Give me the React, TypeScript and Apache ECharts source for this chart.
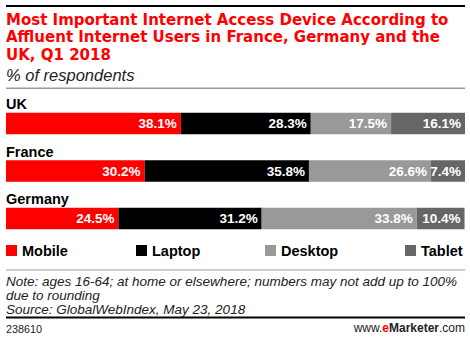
import React, { useEffect, useRef } from "react";
import * as echarts from "echarts";

const countries = ["UK", "France", "Germany"];
const mobile = [38.1, 30.2, 24.5];
const laptop = [28.3, 35.8, 31.2];
const desktop = [17.5, 26.6, 33.8];
const tablet = [16.1, 7.4, 10.4];
const seriesNames = ["Mobile", "Laptop", "Desktop", "Tablet"];
const seriesColors = ["#ff0000", "#000000", "#999999", "#666666"];
const legendLefts = [6, 136, 265, 405];

const titleText =
  "Most Important Internet Access Device According to\nAffluent Internet Users in France, Germany and the\nUK, Q1 2018";
const subtitleText = "% of respondents";
const noteLines = [
  "Note: ages 16-64; at home or elsewhere; numbers may not add up to 100%",
  "due to rounding",
  "Source: GlobalWebIndex, May 23, 2018",
];
const chartId = "238610";

export default function App() {
  const ref = useRef<HTMLDivElement>(null);
  useEffect(() => {
    const chart = echarts.init(ref.current!, null, { renderer: "svg" });
    const font = "'Liberation Sans', Arial, sans-serif";
    const heavy = "'DejaVu Sans', 'Liberation Sans', sans-serif";
    const values = [mobile, laptop, desktop, tablet];
    chart.setOption({
      animation: false,
      textStyle: { fontFamily: font },
      title: [
        {
          text: titleText,
          left: 6,
          top: 11,
          padding: 0,
          textStyle: { color: "#ff0000", fontSize: 15, fontWeight: "bold", lineHeight: 17.5, fontFamily: heavy },
        },
        {
          text: subtitleText,
          left: 6,
          top: 66,
          padding: 0,
          textStyle: { color: "#222", fontSize: 16.5, fontStyle: "italic", fontWeight: "normal", fontFamily: font },
        },
        {
          text: "{a|www.}{b|e}{c|Marketer}{a|.com}",
          right: 5,
          top: 322,
          padding: 0,
          textStyle: {
            fontSize: 12,
            fontFamily: font,
            rich: {
              a: { fontSize: 12, color: "#222", fontWeight: "normal", fontFamily: font },
              b: { fontSize: 12, color: "#ff0000", fontWeight: "bold", fontFamily: font },
              c: { fontSize: 12, color: "#222", fontWeight: "bold", fontFamily: font },
            },
          },
        },
      ],
      legend: seriesNames.map((n, i) => ({
        data: [n],
        left: legendLefts[i],
        top: 243,
        icon: "rect",
        itemWidth: 11,
        itemHeight: 11,
        itemGap: 5,
        padding: 0,
        selectedMode: false,
        textStyle: { fontSize: 14.5, fontWeight: "bold", color: "#000", fontFamily: font },
      })),
      grid: { left: 6, right: 5, top: 99.75, bottom: 97.75, containLabel: false },
      xAxis: { type: "value", min: 0, max: 100, show: false },
      yAxis: {
        type: "category",
        data: countries,
        inverse: true,
        axisLine: { show: false },
        axisTick: { show: false },
        axisLabel: {
          inside: true,
          margin: 0,
          verticalAlign: "bottom",
          padding: [0, 0, 12, 0],
          fontSize: 14.5,
          fontWeight: "bold",
          color: "#000",
          fontFamily: font,
        },
      },
      series: seriesNames.map((n, i) => ({
        name: n,
        type: "bar",
        stack: "total",
        barWidth: 21.5,
        data: values[i],
        itemStyle: { color: seriesColors[i] },
        label: {
          show: true,
          position: "insideRight",
          distance: 4,
          formatter: (p: any) => p.value.toFixed(1) + "%",
          color: "#fff",
          fontSize: 13.5,
          fontWeight: "bold",
          fontFamily: font,
        },
      })),
      graphic: [
        { type: "rect", shape: { x: 6, y: 5, width: 459, height: 2 }, style: { fill: "#000" } },
        { type: "rect", shape: { x: 6, y: 87.5, width: 459, height: 1.5 }, style: { fill: "#999" } },
        { type: "rect", shape: { x: 6, y: 269.5, width: 459, height: 1 }, style: { fill: "#999" } },
        { type: "rect", shape: { x: 6, y: 316.5, width: 459, height: 2 }, style: { fill: "#000" } },
        ...noteLines.map((t, i) => ({
          type: "text",
          x: 6,
          y: 274 + i * 14,
          style: { text: t, fontSize: 13.5, fontStyle: "italic", fill: "#222", fontFamily: font, textVerticalAlign: "top" },
        })),
        {
          type: "text",
          x: 6,
          y: 323,
          style: { text: chartId, fontSize: 10.8, fill: "#222", fontFamily: font, textVerticalAlign: "top" },
        },
      ],
    });
    return () => chart.dispose();
  }, []);
  return <div ref={ref} style={{ position: "absolute", left: 0, top: 0, width: 470, height: 340 }} />;
}
